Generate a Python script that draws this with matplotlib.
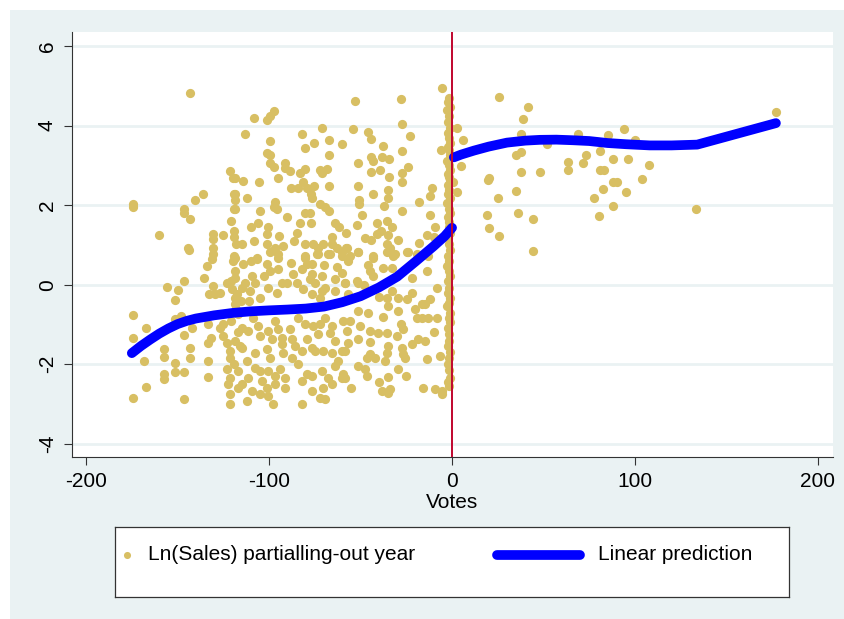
import matplotlib
matplotlib.use("Agg")
import matplotlib.pyplot as plt
from matplotlib.patches import Rectangle

plt.rcParams['font.family'] = ['Liberation Sans', 'DejaVu Sans']
plt.rcParams['axes.unicode_minus'] = False

# points left of the cutoff (votes, ln sales partialled out)
votes_left = [
    -143.3, -121.3, -119.7, -136, -140.4, -174.5, -174.5, -146.4, -146.4, -143, -119, -118.6, -119, -121,
    -160.3, -130.6, -130.6, -125.3, -119, -119, -118, -144.4, -130.6, -130.6, -119,
    -144, -131, -134, -119.7, -156, -149.7, -146.4, -151.4, -135.5, -133, -129.5, -126.8, -130.6, -123,
    -121, -118.6, -174.3, -167, -174.3, -168.3, -167.2, -174.3, -151.4, -148, -146.4, -157.4, -157.4,
    -143.2, -143.2, -151.4, -151.4, -146.4, -157.4, -157.4, -146.4, -133.3, -133.3, -132, -133.3, -126.8,
    -125, -123, -121.3, -121.3, -123, -121.3, -122.4, -121.3, -121.3, -133.3, -142, -118.6, -118.6, -121, -125,
    -97.3, -99.5, -101, -108, -113, -71, -82, -99.5, -80.3, -75.4, -67.2, -60, -67.2, -101, -99.5, -99.5,
    -97.3, -91.3, -91.3, -88.5, -83, -80.3, -72, -71, -68.3, -118.6, -114, -105.5, -95, -88, -84, -81.4,
    -79.2, -77, -76.5, -75.4, -67.2, -118.6, -112, -96.7, -95.6, -97.3, -118.6, -72, -69.4, -67.2, -80.3,
    -77.6, -83, -77, -64, -61.7, -110, -106, -100.5, -101, -94.5, -65.6, -114.8, -108, -101, -96.7, -92.3,
    -86.3, -80.3, -76, -73.2, -70.5, -65.6, -62.8, -60, -58, -106.6, -99.5, -95, -80.3, -73.8, -67.8,
    -118.6, -114.2, -106.6, -101, -95, -99.5, -95, -80.3, -76.5, -73.2, -66.7, -60, -56.8, -79.2, -82,
    -109.3, -102.7,
    -113, -110.4, -117.5, -104.9, -100.5, -95.6, -90.2, -84.7, -81.4, -77.6, -74.9, -71, -69.4, -76.5,
    -72.1, -63.9, -58.5, -56.8, -115.3, -110.9,
    -114.8, -111.5, -106, -104.9, -100.5, -98.4, -95, -92.9, -88.5, -87.4, -80.3, -79.2, -75.9, -73.2,
    -69.4, -66.7, -63.9, -59.6, -57.4, -118.6,
    -114.8, -107.7, -101, -99.5, -92.3, -87.4, -82, -76.5, -70.5, -65.6, -60.1, -112,
    -117, -111.5, -104.9, -100.5, -96.7, -94, -91.3, -84.2, -79.2, -76.5, -71, -67.8, -63.9, -59.6,
    -104.9, -100.5, -97.8, -112, -82, -70.5, -72.1, -69.4, -60.1, -101,
    -53, -27.9, -27.3, -54, -46, -44.3, -23, -37.7, -44.3, -43.2, -38.3, -34.4, -27.3, -51.4, -44.3,
    -39.3, -34.4, -24, -27.3, -27.3, -51.4, -43.2, -35, -35, -10.9, -12, -18, -50.8, -50.8, -37.2,
    -27.3, -49.2, -12, -41, -35.5, -32.8, -38.8, -41, -35, -13.7, -47.5, -44.3, -29.5, -35.5, -33.9,
    -35.5, -18, -24, -31.1, -57.4, -51.4, -43.2, -55.7, -5.5, -6, -9.3, -9.8,
    -51.4, -43.2, -32.2, -24.6, -19.1, -13.1, -56.8, -44.8, -43.2, -37.7, -32.8, -21.9, -13.7, -8.2,
    -51.9, -51.4, -58.5, -35.5, -29.5, -24.6, -35, -29.5, -16.4, -14.8, -51.4, -45.9, -55.7, -50.3,
    -44.8, -40.4, -35.5, -26.8, -19.1, -16.4, -13.1, -8.2, -18.6, -14.8, -56.8, -51.4, -58.5, -44.8,
    -46.4, -42.1, -35, -35.5, -36.6, -27.3, -26.8, -25.7, -21.9, -13.7, -6.6, -51.4, -47.5, -46.4,
    -29.5, -35, -58.5, -38.3, -33.9, -35, -15.8, -9.3, -5.5, -5.6,
    -118.6, -107.7, -114.8, -92.9, -86.9, -76.5, -71, -63.9, -60.1, -117, -108.7, -96.7, -84.2, -72.1,
    -65.6, -92.9, -85.8, -74.9, -62.3, -107.7, -96.7, -91.3, -82, -76.5, -65.6, -103.8, -114.8, -109.3,
    -118, -117, -116, -119, -117, -120,
    -48, -40, -33, -22, -20, -28, -38, -45, -30, -10, -12, -25, -40, -55,
    -105, -90, -85, -110, -88, -70, -63, -58, -52, -46,
]
sales_left = [
    4.82, 2.85, 2.67, 2.29, 2.14, 1.96, 2.02, 1.91, 1.79, 1.64, 2.27, 2.12, 1.89, 1.61,
    1.24, 1.28, 1.16, 1.24, 1.36, 1.21, 1.03, 0.93, 0.91, 0.78, 0.73,
    0.86, 0.65, 0.48, 0.6, -0.05, -0.13, 0.1, -0.38, 0.18, -0.23, -0.23, -0.2, -0.03, 0.03,
    0.1, 0.18, -0.76, -1.08, -1.34, -1.91, -2.57, -2.85, -0.86, -0.78, -1.26, -1.61, -1.81,
    -1.59, -1.84, -1.96, -2.19, -2.19, -2.24, -2.37, -2.87, -1.91, -2.32, -1.34, -1.46, -1.08,
    -1.28, -1.46, -1.66, -1.84, -2.12, -2.34, -2.49, -2.75, -3.0, -0.98, -1.08, -0.33, -0.48, -0.91, -1.0,
    4.36, 4.23, 4.13, 4.18, 3.78, 3.93, 3.78, 3.6, 3.43, 3.55, 3.63, 3.53, 3.25, 3.3, 3.25, 3.07,
    2.95, 3.05, 2.92, 2.85, 2.8, 2.9, 2.87, 2.8, 2.9, 2.67, 2.6, 2.57, 2.67, 2.42, 2.42, 2.57,
    2.44, 2.29, 2.19, 2.47, 2.49, 2.29, 2.19, 2.09, 1.89, 1.94, 1.91, 2.04, 1.94, 1.84, 1.79,
    1.79, 1.54, 1.56, 1.56, 1.44, 1.44, 1.54, 1.44, 1.28, 1.23, 1.21, 1.03, 1.11, 1.03, 0.93, 0.96,
    1.11, 1.03, 1.03, 0.93, 1.03, 1.01, 0.93, 0.81, 0.93, 0.68, 0.81, 0.78, 0.73, 0.78, 0.78,
    0.68, 0.53, 0.65, 0.53, 0.68, 0.35, 0.4, 0.68, 0.53, 0.78, 0.78, 0.73, 0.6, 0.53, 0.4,
    0.23, 0.23,
    0.03, -0.15, -0.23, -0.33, -0.08, -0.2, 0.05, 0.03, -0.1, 0.15, 0.03, 0.23, -0.08, -0.23,
    -0.33, -0.15, 0.03, -0.23, -0.4, -0.4,
    -1.08, -1.16, -1.03, -1.28, -1.16, -1.36, -1.11, -1.34, -1.11, -1.36, -0.98, -1.36, -1.03, -1.23,
    -0.83, -1.21, -1.41, -0.91, -1.16, -1.41,
    -1.59, -1.71, -1.61, -1.84, -1.71, -1.84, -1.66, -1.59, -1.66, -1.71, -1.66, -1.91,
    -2.17, -2.34, -2.17, -2.17, -2.29, -2.12, -2.34, -1.99, -2.24, -2.29, -2.17, -2.34, -2.04, -2.24,
    -2.75, -2.8, -3.0, -2.93, -3.0, -2.59, -2.85, -2.87, -2.34, -2.59,
    4.61, 4.66, 4.03, 3.9, 3.83, 3.65, 3.73, 3.48, 3.2, 3.12, 3.2, 3.17, 3.35, 3.05, 2.82,
    2.87, 2.7, 2.95, 2.8, 2.57, 2.49, 2.27, 2.37, 2.19, 2.44, 2.22, 2.09, 2.12, 2.04, 1.99,
    1.84, 1.74, 1.74, 1.54, 1.61, 1.44, 1.36, 1.28, 1.26, 1.26, 1.18, 1.13, 1.13, 1.03, 0.91,
    0.81, 1.06, 0.81, 0.76, 0.93, 0.83, 0.71, 0.73, 4.94, 3.38, 1.44, 1.21,
    0.81, 0.68, 0.73, 0.81, 0.78, 0.73, 0.65, 0.35, 0.23, 0.43, 0.43, 0.18, 0.35, -0.08,
    0.1, 0.03, 0.03, -0.33, -0.33, -0.35, -0.53, -0.65, -0.48, -0.48, -0.65, -0.7, -0.91, -1.03,
    -1.16, -1.21, -1.21, -1.11, -0.83, -0.83, -0.83, -0.83, -1.36, -1.41, -1.46, -1.36, -1.66, -1.74,
    -1.84, -1.84, -1.54, -1.71, -1.91, -1.59, -1.74, -1.84, -1.49, -1.86, -1.79, -2.04, -2.12, -2.29,
    -2.12, -2.32, -2.34, -2.67, -2.62, -2.72, -2.59, -2.62, -2.75, -2.67,
    0.35, 0.05, -0.08, 0.03, 0.28, 0.28, -0.15, 0.15, 0.3, -0.73, -0.83, -0.91, -0.83, -0.98,
    -1.03, -1.49, -1.54, -1.66, -1.91, -2.09, -2.49, -2.59, -2.42, -2.67, -2.49, -2.42, -2.49, -2.67,
    -0.6, -1.2, -1.55, -2.0, -2.6, -0.1,
    0.0, -0.3, -0.15, -0.2, -0.6, -1.0, -0.8, -1.45, -1.3, -1.2, -0.35, -2.3, -2.45, -2.6,
    1.85, 1.7, 1.3, 0.6, 0.55, 0.5, 0.45, 1.3, 1.5, 0.5,
]

# the stack of observations just below zero votes
votes_zero = [
    -1.5, -2.2, -1.0, -2.6, -1.4, -2.0, -1.2, -2.4, -1.6, -1.1, -2.3, -1.7, -1.3, -2.5, -1.9,
    -1.2, -2.1, -1.6, -1.0, -2.4, -1.5, -2.0, -1.3, -2.6, -1.8, -1.1, -2.2, -1.5, -1.9, -1.2,
    -2.4, -1.6, -1.0, -2.1, -1.4, -2.5, -1.7, -1.2, -2.0, -1.5, -2.3, -1.1, -1.8, -2.6, -1.3,
    -1.9, -1.0, -2.2, -1.6, -1.4, -2.4, -1.2, -1.8, -2.0, -1.5, -1.3, -2.1, -1.6,
]
sales_zero = [
    4.69, 4.58, 4.47, 4.38, 4.25, 4.08, 3.95, 3.8, 3.68, 3.55, 3.45, 3.38, 3.25, 3.12, 3.0,
    2.87, 2.78, 2.7, 2.62, 2.5, 2.37, 2.27, 2.17, 2.05, 1.91, 1.8, 1.69, 1.57, 1.44, 1.3,
    1.18, 1.02, 0.86, 0.72, 0.6, 0.48, 0.35, 0.22, 0.1, -0.08, -0.2, -0.33, -0.45, -0.53, -0.7,
    -0.83, -0.95, -1.08, -1.23, -1.41, -1.55, -1.7, -1.84, -1.99, -2.15, -2.34, -2.45, -2.54,
]

# points right of the cutoff
votes_right = [
    25.9, 41.7, 39, 2.9, 6.2, 37.7, 35, 37.7, 51.7, 68.7, 73, 71.7, 63.2, 63.2, 85, 94.2,
    100, 80.9, 87.8, 96, 107.8, 80.9, 83, 104, 87.8, 90, 82.7, 94.9, 77.8, 87.8, 80.2, 177,
    133.2, 20.4, 19.8, 37.7, 48.1, 25, 35, 19, 35.9, 44.1, 20, 25.9, 44.1, 4.9, 2.9, 0.7,
]
sales_right = [
    4.72, 4.47, 4.16, 3.95, 3.64, 3.78, 3.27, 3.33, 3.54, 3.79, 3.27, 3.06, 3.08, 2.89, 3.77, 3.92,
    3.64, 3.35, 3.17, 3.17, 3.02, 2.87, 2.89, 2.65, 2.58, 2.59, 2.41, 2.34, 2.18, 1.99, 1.73, 4.34,
    1.89, 2.69, 2.62, 2.83, 2.83, 2.18, 2.35, 1.76, 1.81, 1.65, 1.43, 1.23, 0.85, 2.98, 2.33, 2.58,
]

# fitted prediction on each side of the cutoff
fit_left_x = [-175, -170, -165, -160, -155, -150, -145, -140, -130, -120, -110, -100, -90, -80,
              -70, -60, -50, -40, -30, -20, -10, -4, 0]
fit_left_y = [-1.72, -1.54, -1.38, -1.23, -1.1, -0.99, -0.91, -0.85, -0.77, -0.71, -0.67, -0.645,
              -0.625, -0.6, -0.55, -0.44, -0.29, -0.07, 0.2, 0.58, 0.97, 1.22, 1.43]
fit_right_x = [1, 5, 12, 20, 30, 40, 48, 57, 66, 75, 85, 95, 108, 120, 134, 177]
fit_right_y = [3.2, 3.27, 3.37, 3.47, 3.57, 3.62, 3.64, 3.645, 3.63, 3.61, 3.56, 3.53, 3.5, 3.5, 3.52, 4.06]

dot_color = '#D8BF63'
fit_color = '#0000FF'
bg_color = '#EAF2F3'

fig = plt.figure(figsize=(8.44, 6.19), dpi=100)
fig.patch.set_facecolor('white')
fig.patches.append(Rectangle((10 / 844, 0), 834 / 844, 609 / 619, transform=fig.transFigure,
                             facecolor=bg_color, edgecolor='none', zorder=-10))

ax = fig.add_axes([72 / 844, 162 / 619, 761 / 844, 425 / 619])
ax.set_facecolor('white')

ax.scatter(votes_left + votes_zero + votes_right, sales_left + sales_zero + sales_right,
           s=44, color=dot_color, linewidths=0, zorder=3)
ax.plot(fit_left_x, fit_left_y, color=fit_color, lw=7, solid_capstyle='round', zorder=4)
ax.plot(fit_right_x, fit_right_y, color=fit_color, lw=7, solid_capstyle='round', zorder=4)
ax.axvline(0, color='#C0062E', lw=1.4, zorder=5)

ax.set_xlim(-207.7, 208.2)
ax.set_ylim(-4.33, 6.35)
ax.set_xticks([-200, -100, 0, 100, 200])
ax.set_yticks([-4, -2, 0, 2, 4, 6])
ax.yaxis.grid(True, color=bg_color, lw=2)
ax.set_axisbelow(True)
ax.tick_params(axis='both', labelsize=15, length=6, width=0.8, color='#333333', pad=5)
for lab in ax.get_yticklabels():
    lab.set_rotation(90)
    lab.set_va('center')
for side in ['top', 'right']:
    ax.spines[side].set_visible(False)
for side in ['left', 'bottom']:
    ax.spines[side].set_color('#333333')
    ax.spines[side].set_linewidth(0.8)
ax.set_xlabel('Votes', fontsize=15, labelpad=1)

# legend box drawn in its own axes, in pixel units
leg = fig.add_axes([115 / 844, 22 / 619, 674 / 844, 70 / 619])
leg.set_xlim(0, 674)
leg.set_ylim(0, 70)
leg.set_xticks([])
leg.set_yticks([])
for s in leg.spines.values():
    s.set_color('#333333')
    s.set_linewidth(0.9)
leg.scatter([12], [42], s=26, color=dot_color, linewidths=0)
leg.text(33, 42, 'Ln(Sales) partialling-out year', fontsize=15, va='center')
leg.plot([382, 465], [42, 42], color=fit_color, lw=7, solid_capstyle='round')
leg.text(483, 42, 'Linear prediction', fontsize=15, va='center')

fig.savefig('out.png', dpi=100)
